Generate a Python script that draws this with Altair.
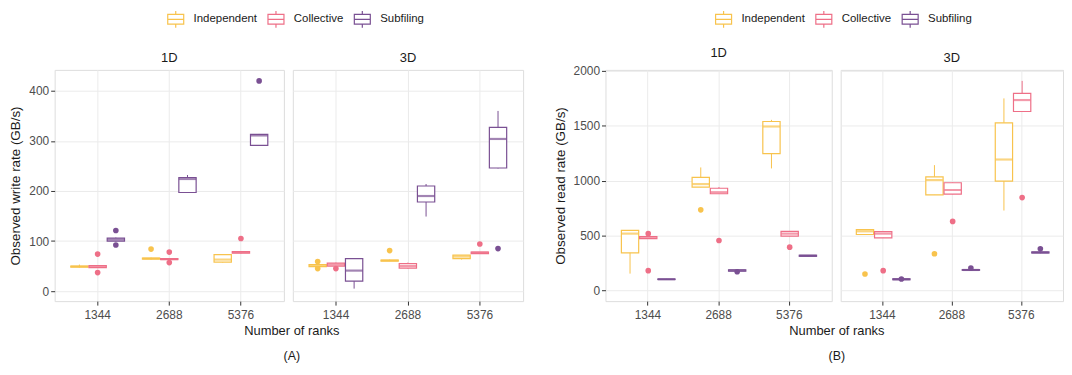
import altair as alt
import pandas as pd

FONT = "Liberation Sans"
ranks = ["1344", "2688", "5376"]
methods = ["Independent", "Collective", "Subfiling"]
colors = ["#F8C34D", "#EE6F87", "#7A5093"]

# order per panel: for each rank -> Independent, Collective, Subfiling
# (A) write rate, 1D
a1_lo = [47, 46, 99, 63, 62, 196, 57, 75, 290]
a1_q1 = [48, 47, 100, 64, 63, 197, 58, 76, 291]
a1_med = [49, 49, 103, 65, 64, 224, 63, 78, 311]
a1_q3 = [50, 51, 106, 66, 65, 227, 73, 79, 313]
a1_hi = [53, 52, 107, 67, 66, 232, 74, 80, 314]
a1_out_rank = ["1344", "1344", "1344", "1344", "2688", "2688", "2688", "5376", "5376"]
a1_out_method = ["Collective", "Collective", "Subfiling", "Subfiling", "Independent", "Collective", "Collective", "Collective", "Subfiling"]
a1_out_val = [74, 37, 121, 92, 84, 78, 57, 105, 420]

# (A) write rate, 3D
a2_lo = [48, 50, 5, 60, 45, 149, 63, 75, 245]
a2_q1 = [49, 50, 20, 60, 46, 178, 65, 75, 246]
a2_med = [51, 53, 41, 61, 50, 190, 69, 77, 304]
a2_q3 = [53, 56, 65, 62, 55, 210, 72, 78, 327]
a2_hi = [55, 57, 66, 63, 57, 214, 72, 78, 360]
a2_out_rank = ["1344", "1344", "1344", "2688", "5376", "5376"]
a2_out_method = ["Independent", "Independent", "Collective", "Independent", "Collective", "Subfiling"]
a2_out_val = [59, 45, 45, 81, 94, 85]

# (B) read rate, 1D
b1_lo = [155, 470, 100, 939, 878, 175, 1110, 494, 310]
b1_q1 = [344, 472, 101, 940, 880, 178, 1245, 496, 312]
b1_med = [518, 482, 104, 968, 894, 185, 1491, 518, 317]
b1_q3 = [548, 492, 106, 1029, 930, 190, 1536, 539, 322]
b1_hi = [550, 495, 107, 1119, 941, 192, 1551, 541, 324]
b1_out_rank = ["1344", "1344", "2688", "2688", "2688", "5376"]
b1_out_method = ["Collective", "Collective", "Independent", "Collective", "Subfiling", "Collective"]
b1_out_val = [518, 182, 734, 455, 172, 395]

# (B) read rate, 3D
b2_lo = [509, 479, 98, 869, 875, 183, 728, 1626, 340]
b2_q1 = [510, 480, 99, 870, 876, 185, 995, 1627, 342]
b2_med = [539, 518, 104, 1004, 914, 188, 1191, 1731, 347]
b2_q3 = [554, 536, 108, 1034, 980, 191, 1524, 1791, 352]
b2_hi = [555, 537, 109, 1140, 982, 193, 1746, 1905, 354]
b2_out_rank = ["1344", "1344", "1344", "2688", "2688", "2688", "5376", "5376"]
b2_out_method = ["Independent", "Collective", "Subfiling", "Independent", "Collective", "Subfiling", "Collective", "Subfiling"]
b2_out_val = [151, 182, 106, 335, 629, 205, 845, 380]

BOX_PATH = "M-0.9,-0.55H0.9V0.55H-0.9Z M-0.9,0H0.9 M0,-0.55V-0.95 M0,0.55V0.95"


def box_df(lo, q1, med, q3, hi):
    rows = []
    i = 0
    for r in ranks:
        for m in methods:
            rows.append(dict(rank=r, method=m, lo=lo[i], q1=q1[i], med=med[i], q3=q3[i], hi=hi[i]))
            i += 1
    return pd.DataFrame(rows)


def out_df(rk, me, va):
    return pd.DataFrame({"rank": rk, "method": me, "value": va})


def panel(box, outl, title, domain, grid_vals, major, width, first, ytitle, legend):
    # stroke scale (with legend) has an explicit domain; the colour scale of the
    # other layers is data-driven so the two legends are not merged
    scale_s = alt.Scale(domain=methods, range=colors)
    scale_c = alt.Scale(range=colors)
    x = alt.X("rank:N", sort=ranks, title=None,
              scale=alt.Scale(paddingInner=0.25, paddingOuter=0.225),
              axis=alt.Axis(labelAngle=0, labelFontSize=12, labelColor="#4d4d4d", labelFont=FONT,
                            tickColor="#333333", tickSize=4, domain=False, grid=True,
                            gridColor="#ebebeb", gridWidth=1, labelPadding=5))
    xo = alt.XOffset("method:N", sort=methods, scale=alt.Scale(paddingInner=0.05))
    ysc = alt.Scale(domain=domain, nice=False, zero=False)
    cond_test = f"datum.value % {major} === 0"
    if first:
        yax = alt.Axis(values=grid_vals, title=ytitle, titleFontSize=13.5, titleFont=FONT,
                       titleFontWeight="normal", titleColor="#1a1a1a", titlePadding=6,
                       labelFontSize=12, labelFont=FONT, labelColor="#4d4d4d", labelPadding=2,
                       format="d",
                       labelExpr=f"{cond_test} ? datum.label : ''",
                       tickSize=4, tickColor="#333333",
                       tickOpacity={"condition": {"test": cond_test, "value": 1}, "value": 0},
                       domain=False, gridColor="#ebebeb",
                       gridWidth={"condition": {"test": cond_test, "value": 1}, "value": 0.6})
    else:
        yax = alt.Axis(values=grid_vals, title=None, labels=False, ticks=False, domain=False,
                       gridColor="#ebebeb",
                       gridWidth={"condition": {"test": cond_test, "value": 1}, "value": 0.6})
    step = width / 3.2
    bw = 0.75 * step / (3 - 0.05) * 0.95

    col = alt.Color("method:N", sort=methods, scale=scale_c, legend=None)
    base = alt.Chart(box)
    whisk = base.mark_rule(strokeWidth=1).encode(
        x=x, xOffset=xo, y=alt.Y("lo:Q", scale=ysc, axis=yax), y2="hi:Q", color=col)
    bx = base.mark_bar(fill="white", strokeWidth=1.2).encode(
        x=x, xOffset=xo, y=alt.Y("q1:Q"), y2="q3:Q",
        stroke=alt.Stroke("method:N", scale=scale_s, legend=legend))
    med = base.mark_tick(thickness=2.2, size=bw).encode(
        x=x, xOffset=xo, y=alt.Y("med:Q"), color=col)
    pts = alt.Chart(outl).mark_circle(size=32, opacity=1).encode(
        x=x, xOffset=xo, y=alt.Y("value:Q"), color=col)
    return alt.layer(whisk, bx, med, pts).properties(
        width=width, height=233,
        title=alt.TitleParams(title, fontSize=13, font=FONT, fontWeight="normal", color="#1a1a1a", offset=5))


def make_legend(lx):
    return alt.Legend(title=None, orient="none", legendX=lx, legendY=-61, direction="horizontal",
                      symbolType=BOX_PATH, symbolSize=320, symbolStrokeWidth=1.2,
                      symbolFillColor="white", labelFontSize=11.5, labelFont=FONT,
                      labelColor="#1a1a1a", columnPadding=8, labelOffset=8)


a_vals = list(range(0, 401, 50))
b_vals = list(range(0, 2001, 250))

pA1 = panel(box_df(a1_lo, a1_q1, a1_med, a1_q3, a1_hi), out_df(a1_out_rank, a1_out_method, a1_out_val),
            "1D", [-20, 442], a_vals, 100, 231, True, "Observed write rate (GB/s)", make_legend(112))
pA2 = panel(box_df(a2_lo, a2_q1, a2_med, a2_q3, a2_hi), out_df(a2_out_rank, a2_out_method, a2_out_val),
            "3D", [-20, 442], a_vals, 100, 232, False, None, make_legend(112))
pB1 = panel(box_df(b1_lo, b1_q1, b1_med, b1_q3, b1_hi), out_df(b1_out_rank, b1_out_method, b1_out_val),
            "1D", [-95, 2005], b_vals, 500, 228, True, "Observed read rate (GB/s)", make_legend(109))
pB2 = panel(box_df(b2_lo, b2_q1, b2_med, b2_q3, b2_hi), out_df(b2_out_rank, b2_out_method, b2_out_val),
            "3D", [-95, 2005], b_vals, 500, 224, False, None, make_legend(109))


def group(p1, p2, label, dx):
    pair = alt.hconcat(p1, p2, spacing=7).properties(
        title=alt.TitleParams("Number of ranks", orient="bottom", anchor="middle", fontSize=13,
                              font=FONT, fontWeight="normal", color="#1a1a1a", offset=4, dx=dx))
    return alt.hconcat(pair).properties(
        title=alt.TitleParams(label, orient="bottom", anchor="middle", fontSize=12.5,
                              font=FONT, fontWeight="normal", color="#1a1a1a", offset=12, dx=dx))


chart = alt.hconcat(group(pA1, pA2, "(A)", 26), group(pB1, pB2, "(B)", 29), spacing=28).resolve_scale(
    stroke="independent", color="independent").resolve_legend(stroke="independent").properties(
    padding={"left": 0, "top": 0, "right": 0, "bottom": 0}).configure_view(
    stroke="#8a8a8a", strokeWidth=1).configure(background="white")

chart.save("out.html", embed_options={"renderer": "svg", "actions": False})
